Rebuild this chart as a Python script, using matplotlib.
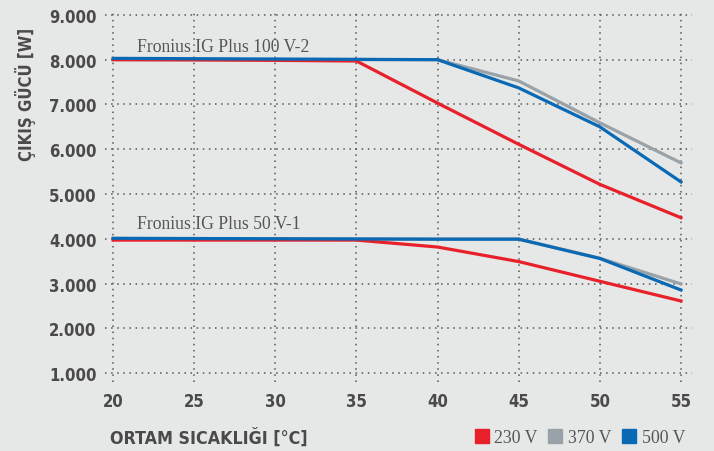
import matplotlib
matplotlib.use("Agg")
import matplotlib.pyplot as plt
from matplotlib.lines import Line2D

# temperatures (deg C)
temps = [20, 25, 30, 35, 40, 45, 50, 55]

# Fronius IG Plus 100 V-2
p100_230 = [8000, 7995, 7985, 7970, 7030, 6110, 5215, 4470]
p100_370 = [8000, 8000, 8000, 8000, 8000, 7525, 6590, 5695]
p100_500 = [8030, 8022, 8015, 8008, 8000, 7370, 6500, 5270]

# Fronius IG Plus 50 V-1
p50_230 = [3970, 3970, 3970, 3970, 3815, 3490, 3050, 2610]
p50_370 = [4005, 4000, 3998, 3995, 3995, 3995, 3565, 2990]
p50_500 = [4010, 4005, 4000, 3995, 3990, 3990, 3560, 2855]

yticks = [1000, 2000, 3000, 4000, 5000, 6000, 7000, 8000, 9000]
xticks = [20, 25, 30, 35, 40, 45, 50, 55]
legend_labels = ["230 V", "370 V", "500 V"]

bg = "#e6e8e7"
red = "#e8202a"
gray = "#98a2a8"
blue = "#0a69b4"
txt = "#4a4a4a"

sans = ["DejaVu Sans"]
serif = ["Liberation Serif", "DejaVu Serif"]

fig = plt.figure(figsize=(7.14, 4.52), dpi=100, facecolor=bg)
ax = fig.add_axes([105 / 714, 1 - 383 / 452, 587 / 714, 372 / 452])
ax.set_facecolor(bg)

lw = 2.3
ax.plot(temps, p100_370, color=gray, lw=lw, zorder=3)
ax.plot(temps, p100_230, color=red, lw=lw, zorder=4)
ax.plot(temps, p100_500, color=blue, lw=lw, zorder=5)
ax.plot(temps, p50_370, color=gray, lw=lw, zorder=3)
ax.plot(temps, p50_230, color=red, lw=lw, zorder=4)
ax.plot(temps, p50_500, color=blue, lw=lw, zorder=5)

ax.set_xlim(19.5, 55.68)
ax.set_ylim(800, 9110)
ax.set_xticks(xticks)
ax.set_yticks(yticks)
ax.set_yticklabels([f"{v:,}".replace(",", ".") for v in yticks])
for s in ax.spines.values():
    s.set_visible(False)
ax.tick_params(length=0, colors=txt, labelsize=12)
ax.tick_params(axis="x", pad=7)
ax.tick_params(axis="y", pad=6)
for lab in ax.get_xticklabels() + ax.get_yticklabels():
    lab.set_fontfamily(sans)
    lab.set_fontweight("bold")
    lab.set_fontstretch("condensed")
ax.grid(True, color="#555555", linestyle=(0, (1, 3)), linewidth=1.1, zorder=1)

ax.text(21.5, 8290, "Fronius IG Plus 100 V-2", family=serif, fontsize=12.7,
        color="#555555", va="center", ha="left", zorder=6)
ax.text(21.5, 4330, "Fronius IG Plus 50 V-1", family=serif, fontsize=12.7,
        color="#555555", va="center", ha="left", zorder=6)

fig.text(110 / 714, 1 - 438 / 452, "ORTAM SICAKLIĞI [°C]", family=sans,
         fontweight="bold", fontstretch="condensed", fontsize=12.8, color=txt,
         ha="left", va="center")
fig.text(25 / 714, 1 - 94 / 452, "ÇIKIŞ GÜCÜ [W]", family=sans,
         fontweight="bold", fontstretch="condensed", fontsize=12, color=txt,
         ha="center", va="center", rotation=90)

handles = [Line2D([], [], marker="s", color=c, linestyle="none", markersize=9.5)
           for c in (red, gray, blue)]
leg = fig.legend(handles, legend_labels, loc="center right",
                 bbox_to_anchor=(694 / 714, 1 - 439 / 452), ncol=3, frameon=False,
                 prop={"family": serif, "size": 12.8}, handletextpad=0.3,
                 columnspacing=0.6, handlelength=0.8, borderpad=0)
for t in leg.get_texts():
    t.set_color("#555555")

fig.savefig("out.png", dpi=100, facecolor=bg)
